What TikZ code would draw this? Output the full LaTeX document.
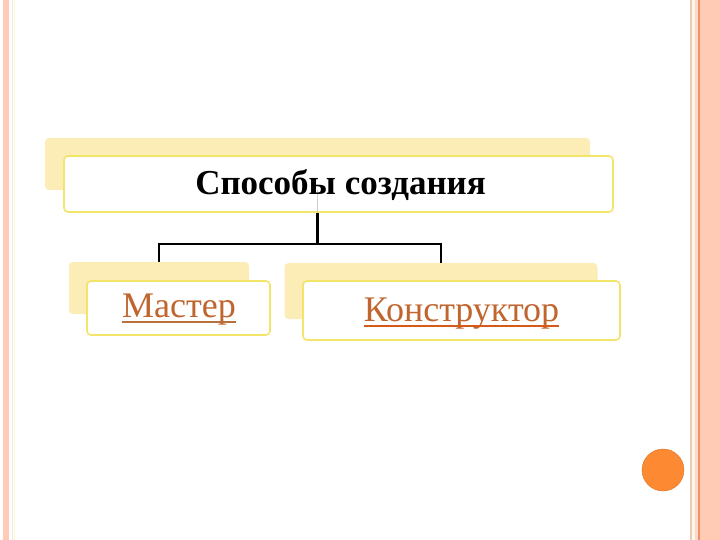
\documentclass[tikz,border=0pt]{standalone}
\usepackage{fontspec}
\setmainfont{Liberation Serif}
\definecolor{shadowY}{HTML}{FBEDB5}
\definecolor{borderY}{HTML}{F3E46A}
\definecolor{linkC}{HTML}{C0652E}
\definecolor{ulA}{HTML}{B5703E}
\definecolor{ulB}{HTML}{D65A1C}
\definecolor{salmon}{HTML}{FFCBB5}
\definecolor{salmonL}{HTML}{FADACB}
\definecolor{tanL}{HTML}{E9CDB8}
\definecolor{creamL}{HTML}{FFF6E8}
\definecolor{orangeL}{HTML}{F08F68}
\definecolor{dotC}{HTML}{FD8A33}
\begin{document}
\begin{tikzpicture}[x=1pt,y=-1pt,
  backbox/.style={fill=shadowY, rounded corners=4pt, minimum width=#1},
  frontbox/.style={fill=white, draw=borderY, line width=1.6pt, rounded corners=4pt},
  link/.style={draw=black, line width=2.2pt},
  lbl/.style={inner sep=0pt, anchor=base, text=linkC, font=\fontsize{36}{40}\selectfont},
  ttl/.style={inner sep=0pt, anchor=base, font=\fontsize{35}{40}\selectfont\bfseries}]
\useasboundingbox (0,0) rectangle (720,540);
% page decorations
\fill[salmon] (3,0) rectangle (9,540);
\fill[black!8] (11.5,0) rectangle (12.3,540);
\fill[yellow!25] (14,0) rectangle (14.8,540);
\fill[tanL] (690,0) rectangle (691.7,540);
\fill[creamL] (691.7,0) rectangle (695,540);
\fill[salmonL] (695,0) rectangle (698,540);
\fill[orangeL] (698,0) rectangle (699.6,540);
\fill[salmon] (699.6,0) rectangle (720,540);
% back boxes
\node[backbox=545pt, minimum height=52pt] (tb) at (317.5,164) {};
\node[backbox=180pt, minimum height=52pt] (lb) at (159,288) {};
\node[backbox=313pt, minimum height=56pt] (rb) at (441,291) {};
% connectors
\draw[link] (tb.south) -- ++(0,54) coordinate (j);
\draw[link] (j) -| (lb.north);
\draw[link] (j) -| (rb.north);
% front boxes
\node[frontbox, minimum width=549pt, minimum height=56pt] (tf) at (338.5,184) {};
\node[frontbox, minimum width=183pt, minimum height=54pt] (lf) at (178.5,308) {};
\node[frontbox, minimum width=317pt, minimum height=59pt] (rf) at (461.5,310.5) {};
\draw[black!20, line width=0.6pt] (tb.south) -- (tf.south -| tb.south);
% texts
\node[ttl] (tt) at (340.5,195) {Способы создания};
\node[lbl] (lt) at (179,317) {Мастер};
\node[lbl] (rt) at (461.5,321) {Конструктор};
\draw[ulA, line width=2pt] ([yshift=-5pt]lt.base west) -- ([yshift=-5pt]lt.base east);
\draw[ulB, line width=2.2pt] ([yshift=-5pt]rt.base west) -- ([yshift=-5pt]rt.base east);
% dot
\node[circle, fill=dotC, draw=dotC!85!black, line width=0.4pt, minimum size=42pt, inner sep=0pt] (dot) at (663,470) {};
\end{tikzpicture}
\end{document}
